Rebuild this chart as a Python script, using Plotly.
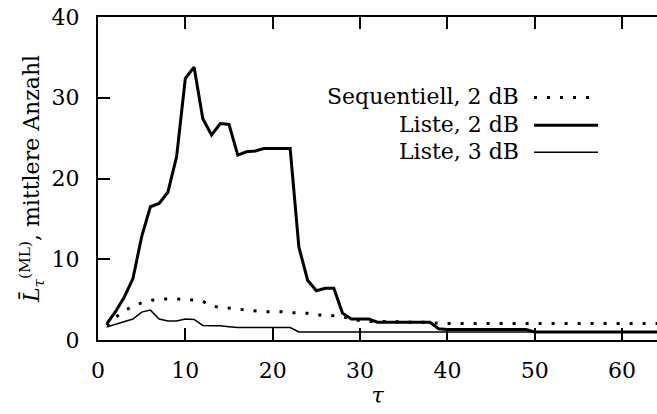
import plotly.graph_objects as go

tau = list(range(1, 65))

seq_2db = [1.8, 2.8, 3.6, 4.2, 4.6, 4.9, 5.05, 5.1, 5.1, 5.0,
           4.95, 4.8, 4.2, 4.05, 3.95, 3.85, 3.7, 3.6, 3.5, 3.5,
           3.5, 3.4, 3.35, 3.3, 3.1, 3.1, 3.0, 2.9, 2.6, 2.4,
           2.3, 2.3, 2.3, 2.25, 2.25, 2.2, 2.2, 2.2] + [2.05] * 26

liste_2db = [2.0, 3.5, 5.3, 7.6, 12.8, 16.5, 16.9, 18.3, 22.7, 32.4,
             33.8, 27.4, 25.4, 26.8, 26.7, 22.9, 23.3, 23.4, 23.7, 23.7,
             23.7, 23.7, 11.5, 7.4, 6.1, 6.4, 6.4, 3.3, 2.6, 2.6,
             2.6, 2.2, 2.2, 2.2, 2.2, 2.2, 2.2, 2.2, 1.4] + [1.3] * 10 + [1.0] * 15

liste_3db = [1.6, 1.95, 2.25, 2.6, 3.45, 3.7, 2.6, 2.35, 2.35, 2.6,
             2.55, 1.8, 1.75, 1.75, 1.65, 1.55, 1.55, 1.55, 1.55, 1.55,
             1.55, 1.55] + [1.0] * 42

legend_labels = ["Sequentiell, 2 dB", "Liste, 2 dB", "Liste, 3 dB"]
x_ticks = [0, 10, 20, 30, 40, 50, 60]
y_ticks = [0, 10, 20, 30, 40]

FONT = "DejaVu Serif"
FS = 22
W, H = 657, 414
L, R, T, B = 98, 0, 16.5, 74

fig = go.Figure()
styles = [dict(color="black", width=3, dash="3px,10px"),
          dict(color="black", width=3),
          dict(color="black", width=1.5)]
for ys, st, name in zip([seq_2db, liste_2db, liste_3db], styles, legend_labels):
    fig.add_trace(go.Scatter(x=tau, y=ys, mode="lines", line=st, name=name,
                             showlegend=False))

pw = W - L - R
ph = H - T - B
def px(xp):
    return (xp - L) / pw
def py(yp):
    return (H - B - yp) / ph

rows = [96, 124, 151]
for lab, st, yy in zip(legend_labels, styles, rows):
    fig.add_annotation(x=px(521), y=py(yy), xref="paper", yref="paper",
                       text=lab, showarrow=False, xanchor="right", yanchor="middle",
                       font=dict(family=FONT, size=FS, color="black"))
    fig.add_shape(type="line", xref="paper", yref="paper",
                  x0=px(534), x1=px(598), y0=py(yy + 1), y1=py(yy + 1), line=st)

fig.update_layout(
    width=W, height=H,
    margin=dict(l=L, r=R, t=T, b=B),
    paper_bgcolor="white", plot_bgcolor="white",
    font=dict(family=FONT, size=FS, color="black"),
    showlegend=False,
)
fig.update_xaxes(range=[0, 64], tickvals=x_ticks, ticks="inside", ticklen=12,
                 tickwidth=2, tickcolor="black", showline=True, linewidth=2,
                 linecolor="black", mirror="ticks", showgrid=False, zeroline=False,
                 ticklabelstandoff=10,
                 tickfont=dict(family=FONT, size=FS, color="black"),
                 title=dict(text="<i>τ</i>", standoff=0,
                            font=dict(family=FONT, size=FS, color="black")))
fig.update_yaxes(range=[0, 40], tickvals=y_ticks, ticks="inside", ticklen=12,
                 tickwidth=2, tickcolor="black", showline=True, linewidth=2,
                 linecolor="black", showgrid=False, zeroline=False,
                 ticklabelstandoff=12,
                 tickfont=dict(family=FONT, size=FS, color="black"),
                 title=dict(text="<i>L\u0304</i><sub><i>τ</i></sub><sup>(ML)</sup>, mittlere Anzahl",
                            standoff=6,
                            font=dict(family=FONT, size=FS, color="black")))

fig.write_html("out.html")
